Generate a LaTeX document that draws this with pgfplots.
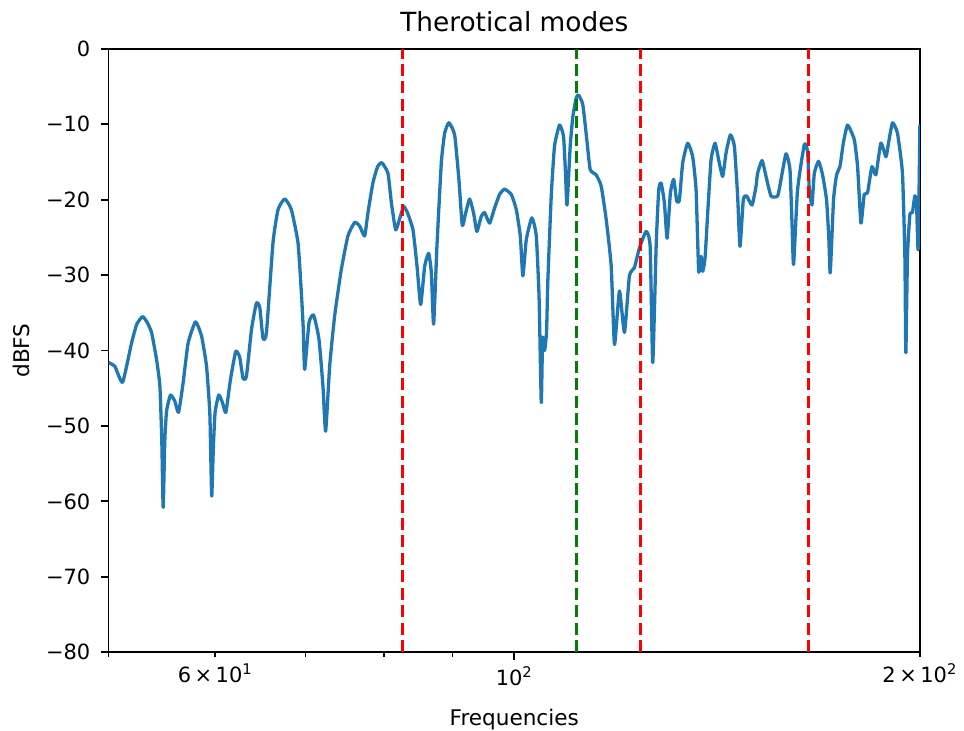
\documentclass[border=0pt]{standalone}
\usepackage{fontspec}
\setmainfont{DejaVu Sans}
\usepackage{pgfplots}
\usepackage{pgfplotstable}
\pgfplotsset{compat=1.18}

\definecolor{mplblue}{HTML}{1F77B4}
\definecolor{mplred}{HTML}{FF0000}
\definecolor{mplgreen}{HTML}{008000}

% measured response, frequency (Hz) vs level (dBFS)
\pgfplotstableread{
f db
50.00 -41.6
50.54 -42.1
51.21 -44.2
52.00 -39.0
52.47 -36.5
52.99 -35.5
53.38 -36.2
53.81 -37.6
54.27 -41.2
54.58 -44.7
54.76 -52.0
54.89 -60.8
55.04 -52.0
55.21 -48.0
55.58 -45.9
55.99 -46.7
56.35 -48.2
56.79 -44.3
57.28 -39.0
58.01 -36.2
58.61 -38.1
59.11 -42.1
59.44 -48.2
59.54 -54.0
59.64 -59.3
59.80 -53.0
59.98 -48.2
60.36 -45.9
60.74 -46.9
61.09 -48.2
61.58 -43.8
62.14 -40.1
62.56 -40.9
62.92 -43.7
63.28 -43.4
63.83 -37.2
64.37 -33.7
64.74 -34.3
65.10 -38.4
65.48 -37.6
66.22 -25.7
66.79 -21.3
67.56 -19.9
68.33 -21.3
69.11 -25.7
69.51 -32.3
69.73 -37.0
69.90 -42.5
70.42 -36.3
70.98 -35.3
71.63 -38.5
72.12 -44.7
72.45 -50.7
72.95 -42.1
73.58 -35.4
74.42 -29.3
75.27 -24.8
76.14 -23.0
76.79 -23.5
77.45 -24.8
77.88 -21.8
78.55 -17.8
79.18 -15.6
79.77 -15.1
80.59 -16.5
81.06 -20.4
81.66 -24.0
82.22 -22.5
82.78 -20.9
83.35 -21.8
84.11 -24.0
84.69 -28.8
85.22 -33.9
85.81 -28.8
86.39 -27.1
86.79 -29.7
87.13 -36.5
87.62 -26.2
88.28 -15.1
88.78 -11.2
89.43 -9.8
90.31 -11.4
90.97 -17.3
91.50 -23.4
92.02 -21.8
92.65 -19.9
93.29 -21.8
93.81 -24.2
94.52 -22.2
95.05 -21.7
95.87 -23.1
96.69 -21.1
97.52 -19.3
98.35 -18.6
99.49 -19.3
100.34 -21.3
101.03 -24.8
101.48 -30.1
102.07 -25.3
103.05 -22.4
103.83 -24.8
104.33 -33.0
104.72 -46.9
104.96 -38.3
105.31 -40.0
105.67 -37.5
105.91 -30.6
106.52 -19.5
107.12 -12.9
108.04 -10.1
108.78 -11.6
109.15 -16.5
109.43 -20.7
110.03 -12.9
110.52 -9.0
111.16 -6.5
111.60 -6.1
112.42 -7.4
113.19 -12.0
113.85 -16.0
115.02 -16.7
116.01 -18.2
117.00 -22.6
118.01 -28.8
118.67 -39.2
119.69 -32.1
120.71 -37.6
121.74 -30.1
122.79 -29.0
123.84 -26.4
125.27 -24.2
126.13 -26.2
126.69 -41.6
127.43 -26.2
127.99 -18.7
128.52 -17.8
129.24 -20.4
129.84 -25.1
130.57 -19.1
131.31 -17.3
131.99 -20.2
132.60 -20.0
133.35 -15.1
134.49 -12.5
135.64 -14.3
136.43 -18.7
137.04 -29.5
137.60 -27.5
137.98 -29.5
138.54 -27.7
139.16 -21.8
139.97 -14.7
140.93 -12.5
141.80 -14.7
142.77 -16.9
143.60 -13.8
144.66 -11.4
145.65 -12.9
146.47 -19.5
147.07 -26.2
147.90 -20.0
148.74 -19.5
150.12 -20.7
151.15 -18.2
151.56 -16.5
152.70 -14.8
153.75 -16.9
155.07 -19.5
156.83 -19.5
157.74 -17.3
159.09 -13.9
160.18 -16.0
160.73 -23.1
161.17 -28.6
162.27 -18.7
164.14 -12.7
165.07 -13.6
165.55 -18.7
166.31 -20.7
166.97 -16.5
168.20 -14.9
169.35 -16.7
170.51 -20.0
171.15 -25.0
171.59 -29.7
172.56 -20.0
173.45 -16.7
174.46 -15.6
175.45 -12.5
176.74 -10.1
178.77 -12.0
179.78 -15.6
180.83 -23.1
181.85 -19.3
182.88 -19.1
184.26 -15.6
185.52 -16.7
187.11 -12.5
188.72 -14.3
189.55 -12.5
190.85 -9.8
192.49 -11.2
194.14 -16.5
194.94 -27.5
195.27 -40.3
195.80 -27.5
196.61 -22.0
197.48 -21.7
198.29 -19.5
198.83 -20.4
199.41 -26.6
200.00 -10.0
}\spectrum

\begin{document}
\begin{tikzpicture}
\begin{axis}[
    scale only axis,
    width=406.15pt,
    height=302pt,
    xmode=log,
    xmin=50, xmax=200,
    ymin=-80, ymax=0,
    axis line style={black, line width=0.88pt},
    tick style={black, line width=0.88pt},
    tick align=outside,
    major tick length=3.85pt,
    minor tick length=2.2pt,
    xtick pos=bottom,
    ytick pos=left,
    xtick={100},
    xticklabels={10\textsuperscript{2}},
    extra x ticks={60,200},
    extra x tick labels={6\,×\,10\textsuperscript{1}, 2\,×\,10\textsuperscript{2}},
    extra x tick style={major tick length=2.2pt},
    minor xtick={50,70,80,90},
    ytick={-80,-70,...,0},
    yticklabels={−80,−70,−60,−50,−40,−30,−20,−10,0},
    ticklabel style={font=\fontsize{10.5}{12}\selectfont},
    xticklabel style={anchor=base, yshift=-13pt},
    yticklabel style={anchor=east, xshift=-1.8pt},
    every axis title shift=0pt,
    title={Therotical modes},
    title style={font=\fontsize{13.2}{15}\selectfont, at={(axis description cs:0.5,1.0286)}, anchor=base, yshift=0pt, inner sep=0pt},
    xlabel={Frequencies},
    xlabel style={font=\fontsize{10.8}{13}\selectfont, at={(axis description cs:0.5,-0.1209)}, anchor=base, inner sep=0pt},
    ylabel={dBFS},
    ylabel style={font=\fontsize{10.8}{13}\selectfont, at={(axis description cs:-0.108,0.5)}, anchor=center, inner sep=0pt},
    clip=true,
]
\addplot[mplblue, line width=1.65pt, line join=round, smooth, tension=0.3] table[x=f, y=db] {\spectrum};
\addplot[mplred, line width=1.65pt, dash pattern=on 6.1pt off 2.64pt] coordinates {(82.6,-80) (82.6,0)};
\addplot[mplgreen, line width=1.65pt, dash pattern=on 6.1pt off 2.64pt] coordinates {(111.2,-80) (111.2,0)};
\addplot[mplred, line width=1.65pt, dash pattern=on 6.1pt off 2.64pt] coordinates {(124.1,-80) (124.1,0)};
\addplot[mplred, line width=1.65pt, dash pattern=on 6.1pt off 2.64pt] coordinates {(165.3,-80) (165.3,0)};
\end{axis}
\path (current axis.south west) ++(-54.35pt,-39pt);
\path (current axis.north east) ++(21.5pt,24.5pt);
\end{tikzpicture}
\end{document}
